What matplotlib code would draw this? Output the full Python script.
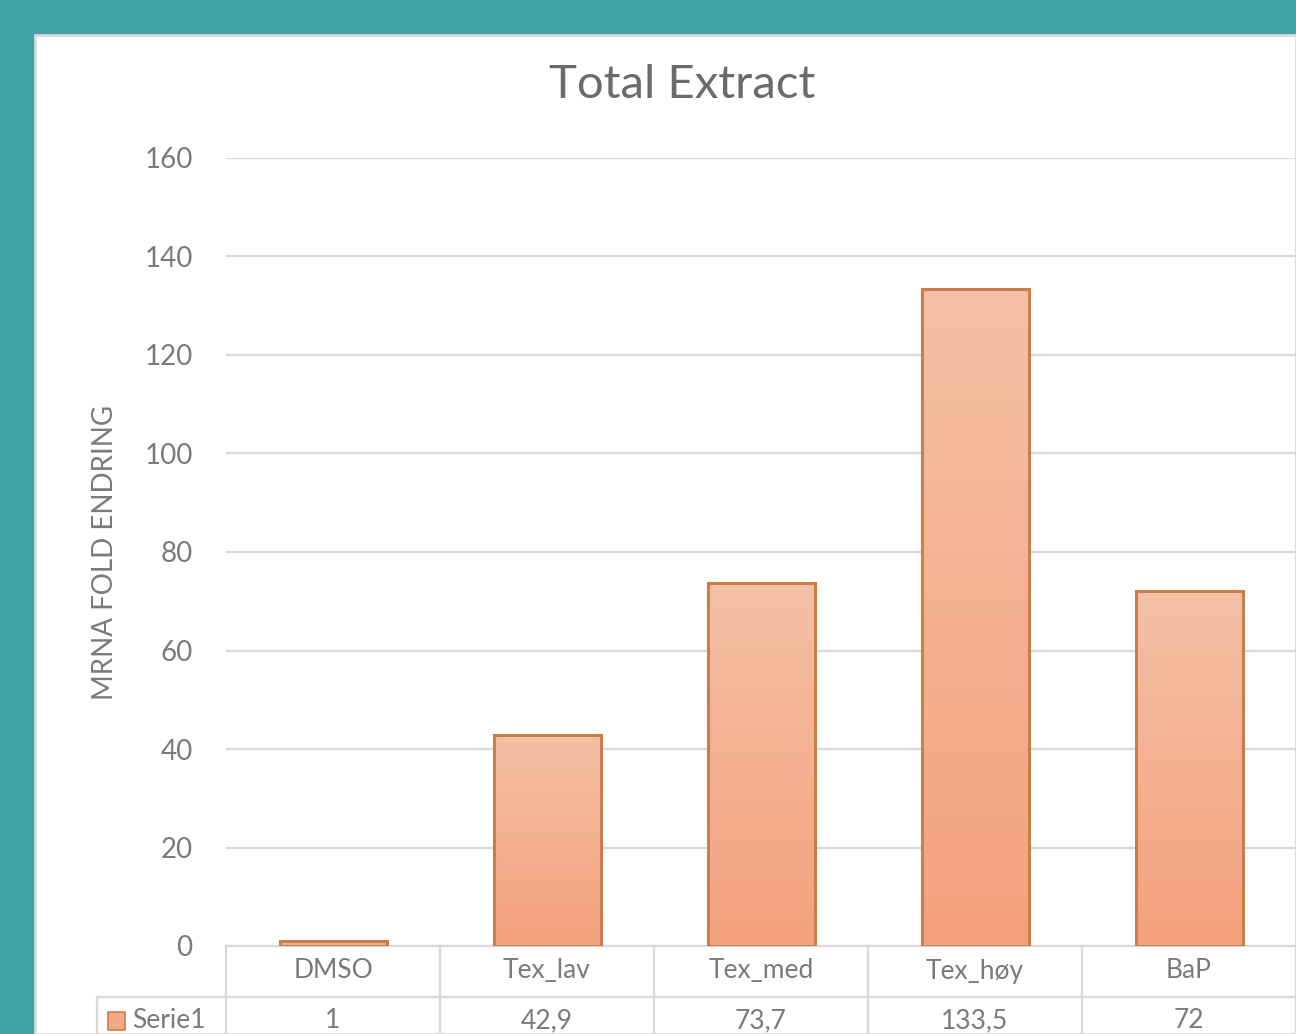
import matplotlib.pyplot as plt
import numpy as np
from matplotlib import rcParams
from matplotlib.patches import Rectangle
from matplotlib.colors import LinearSegmentedColormap
import matplotlib.transforms as mtransforms

categories = ['DMSO', 'Tex_lav', 'Tex_med', 'Tex_høy', 'BaP']
values = [1, 42.9, 73.7, 133.5, 72]
value_labels = ['1', '42,9', '73,7', '133,5', '72']
series_name = 'Serie1'
y_ticks = [0, 20, 40, 60, 80, 100, 120, 140, 160]

rcParams.update({
    'font.family': ['Lato', 'DejaVu Sans'],
    'font.size': 19,
})

W, H = 1296, 1034
fig = plt.figure(figsize=(W / 100, H / 100), dpi=100)
fig.patch.set_facecolor('#40a2a5')

# white chart panel
fig.patches.append(Rectangle((35 / W, 0), 1 - 35 / W, 1 - 35 / H, transform=fig.transFigure,
                             facecolor='white', edgecolor='#d9d9d9', linewidth=2, zorder=-10))

text_col = '#7a7a7a'
title_col = '#6b6b6b'
grid_col = '#d9d9d9'

ax = fig.add_axes([226 / W, (H - 946) / H, (W - 226) / W, (946 - 158) / H])
ax.set_facecolor('none')
x = np.arange(len(categories))
ax.set_xlim(-0.5, len(categories) - 0.5)
ax.set_ylim(0, 160)
ax.set_yticks(y_ticks)
ax.set_xticks([])
ax.tick_params(axis='y', length=0, pad=24, colors=text_col, labelsize=20)
for s in ax.spines.values():
    s.set_visible(False)
ax.yaxis.grid(True, color=grid_col, linewidth=1.6)
ax.set_axisbelow(True)
ax.set_ylabel('MRNA FOLD ENDRING', color=text_col, fontsize=20, labelpad=19)

# bars with vertical gradient
width = 0.5
cmap = LinearSegmentedColormap.from_list('bar', ['#f4a27d', '#f5c0a6'])
grad = np.linspace(0, 1, 256).reshape(-1, 1)
bars = ax.bar(x, values, width, facecolor='none', edgecolor='#c97e4c', linewidth=2.2, zorder=3)
for b in bars:
    x0, w, h = b.get_x(), b.get_width(), b.get_height()
    im = ax.imshow(grad, cmap=cmap, origin='lower', aspect='auto',
                   extent=(x0, x0 + w, 0, h), zorder=2)
    im.set_clip_path(b)
ax.set_xlim(-0.5, len(categories) - 0.5)
ax.set_ylim(0, 160)

ax.set_title('Total Extract', color=title_col, fontsize=34, pad=43, x=(682 - 226) / (W - 226))

# data table below the axes
tr = mtransforms.blended_transform_factory(ax.transData, fig.transFigure)
def fy(py):
    return (H - py) / H

row1_top, row1_bot, row2_bot = 946, 997, 1040
left_px = 97
edges = np.arange(len(categories) + 1) - 0.5
for e in edges:
    ax.plot([e, e], [fy(row1_top), fy(row2_bot)], transform=tr, color=grid_col,
            linewidth=1.6, clip_on=False)
ax.plot([edges[0], edges[-1]], [fy(row1_top)] * 2, transform=tr, color=grid_col,
        linewidth=1.6, clip_on=False)
xl = ax.transData.inverted().transform((left_px, 0))[0]
ax.plot([xl, edges[-1]], [fy(row1_bot)] * 2, transform=tr, color=grid_col,
        linewidth=1.6, clip_on=False)
ax.plot([xl, xl], [fy(row1_bot), fy(row2_bot)], transform=tr, color=grid_col,
        linewidth=1.6, clip_on=False)

for xi, cat, lab in zip(x, categories, value_labels):
    ax.text(xi, fy(971), cat, transform=tr, ha='center', va='center',
            color=text_col, fontsize=19, clip_on=False)
    ax.text(xi, fy(1021), lab, transform=tr, ha='center', va='center',
            color=text_col, fontsize=19, clip_on=False)

# legend key + series name
fig.patches.append(Rectangle((108 / W, fy(1030)), 17 / W, 18 / H, transform=fig.transFigure,
                             facecolor='#f4a888', edgecolor='#c97e4c', linewidth=1.2))
fig.text(132 / W, fy(1021), series_name, ha='left', va='center', color=text_col, fontsize=19)

fig.savefig('out.png', dpi=100)
